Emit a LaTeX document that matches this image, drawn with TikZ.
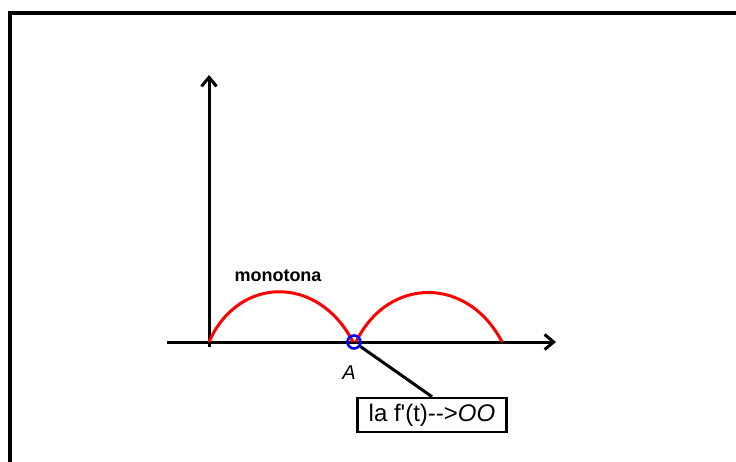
\documentclass[tikz,border=0pt]{standalone}
\usepackage{fontspec}
\setmainfont{Liberation Sans}
\newfontfamily\plainfont{Liberation Sans}
\usepackage{tikz}
\usetikzlibrary{calc, arrows.meta}

\begin{document}
\begin{tikzpicture}[
  x=1pt, y=-1pt,
  axis/.style={line width=3pt, ->, >={Straight Barb[length=9pt,width=15pt,line width=3pt]}},
  arch/.style={line width=3pt, red},
  marker/.style={circle, draw=blue, line width=2.6pt, minimum size=13pt, inner sep=0pt},
  callout/.style={rectangle, draw, line width=2.6pt, inner sep=3pt, minimum height=34pt,
                  minimum width=149pt, font=\plainfont\fontsize{24}{26}\selectfont}
]
\useasboundingbox (0,0) rectangle (736,462);

%% Outer frame
\draw[line width=4pt] (10,462) -- (10,13) -- (740,13);

%% Axes
\coordinate (origin) at (209,342);
\coordinate (xstart) at (167,342);
\coordinate (xend)   at (556,342);
\coordinate (ybottom) at (209,347);
\coordinate (ytop)   at (209,75);
\draw[axis] (xstart) -- (xend);
\draw[axis] (ybottom) -- (ytop);

%% Arches
\draw[arch] (origin) .. controls (238,276) and (318,274) .. (353,342);
\draw[arch] (356,342) .. controls (388,276) and (468,276) .. (502,342);

%% Labels
\node[font=\fontsize{18}{20}\selectfont\bfseries] (mono) at (278,276) {monotona};
\node[marker] (pointA) at (354,342) {};
\node[font=\fontsize{20}{22}\selectfont\itshape] (labelA) at (349,373) {A};
\node[callout] (limit) at (432,415) {la f'(t)-{}->\textit{OO}};

%% Callout line
\draw[line width=3pt] (pointA) -- (limit.north);
\end{tikzpicture}
\end{document}
